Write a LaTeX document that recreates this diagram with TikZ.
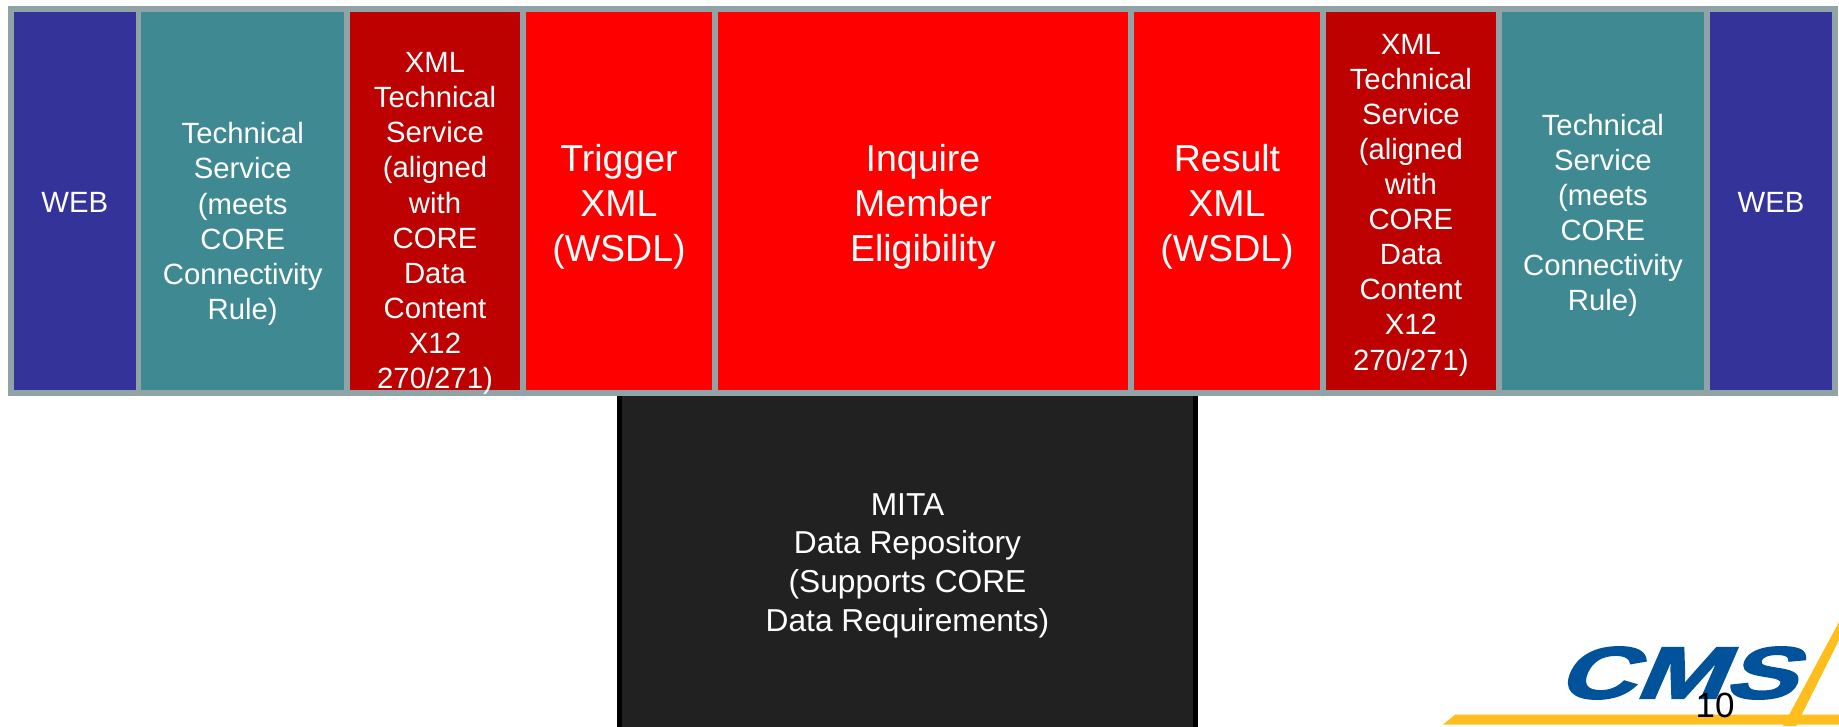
\documentclass[tikz,border=0pt]{standalone}
\usepackage{fontspec}
\setmainfont{Liberation Sans}
\newfontfamily\logofont[BoldFeatures={FakeBold=2,FakeSlant=0.3}]{Liberation Sans}
\usetikzlibrary{positioning, backgrounds}
\definecolor{colorBand}{HTML}{90A4A7}
\definecolor{colorWeb}{HTML}{333399}
\definecolor{colorTeal}{HTML}{3F8A92}
\definecolor{colorDarkRed}{HTML}{BD0000}
\definecolor{colorRepo}{HTML}{212121}
\definecolor{colorLogoBlue}{HTML}{00539B}
\definecolor{colorLogoGold}{HTML}{FFBE1E}
\tikzstyle{cellbox} =[draw=colorBand, line width=5.5pt, outer sep=0pt, inner sep=0pt, minimum height=384pt, text=white, align=center, font=\fontsize{29.3}{35.1}\selectfont]
\tikzstyle{bigbox} =[cellbox, fill=red, font=\fontsize{37.5}{45}\selectfont]
\tikzset{every label/.style={text=white, align=center, inner sep=0pt, font=\fontsize{29.3}{35.1}\selectfont}}

\begin{document}
\begin{tikzpicture}[x=1pt, y=1pt]
\useasboundingbox (0,0) rectangle (1839,-726);
\clip (0,0) rectangle (1839,-726);

\node (webLeft) [cellbox, fill=colorWeb, minimum width=127.5pt, anchor=north west, label={[yshift=-1pt]center:WEB}] at (11,-9) {};
\node (techLeft) [cellbox, fill=colorTeal, minimum width=208.5pt, right=0pt of webLeft,
	label={[yshift=-23pt]center:{Technical\\Service\\(meets\\CORE\\Connectivity\\Rule)}}] {};
\node (xmlLeft) [cellbox, fill=colorDarkRed, minimum width=176pt, right=0pt of techLeft,
	label={[yshift=-22.5pt]center:{XML\\Technical\\Service\\(aligned\\with\\CORE\\Data\\Content\\X12\\270/271)}}] {};
\node (trigger) [bigbox, minimum width=192pt, right=0pt of xmlLeft, label={[yshift=-6pt, font=\fontsize{37.5}{45}\selectfont]center:{Trigger\\XML\\(WSDL)}}] {};
\node (inquire) [bigbox, minimum width=416pt, right=0pt of trigger, label={[yshift=-6pt, font=\fontsize{37.5}{45}\selectfont]center:{Inquire\\Member\\Eligibility}}] {};
\node (result) [bigbox, minimum width=192pt, right=0pt of inquire, label={[yshift=-6pt, font=\fontsize{37.5}{45}\selectfont]center:{Result\\XML\\(WSDL)}}] {};
\node (xmlRight) [cellbox, fill=colorDarkRed, minimum width=175.75pt, right=0pt of result,
	label={[yshift=-4pt]center:{XML\\Technical\\Service\\(aligned\\with\\CORE\\Data\\Content\\X12\\270/271)}}] {};
\node (techRight) [cellbox, fill=colorTeal, minimum width=208.25pt, right=0pt of xmlRight,
	label={[yshift=-14.5pt]center:{Technical\\Service\\(meets\\CORE\\Connectivity\\Rule)}}] {};
\node (webRight) [cellbox, fill=colorWeb, minimum width=128pt, right=0pt of techRight, label={[yshift=-1pt]center:WEB}] {};

\begin{scope}[on background layer]
\node (repo) [draw=black, fill=colorRepo, line width=5pt, outer sep=0pt, minimum width=576pt, minimum height=340pt, below=0pt of inquire, xshift=-15.5pt,
	label={[yshift=-2.6pt, font=\fontsize{31.7}{38.7}\selectfont]center:{MITA\\Data Repository\\(Supports CORE\\Data Requirements)}}] {};
\end{scope}

% logo
\fill[colorLogoGold] (1443,-724.5) -- (1455,-714.7) -- (1839,-714.7) -- (1839,-724.5) -- cycle;
\fill[colorLogoGold] (1839,-622) -- (1839,-640) -- (1796,-726) -- (1783,-726) -- cycle;
\node (cmsLogo) [text=colorLogoBlue, inner sep=0pt, xscale=1.45, transform shape, font=\fontsize{74}{74}\logofont\bfseries\selectfont] at (1675,-673) {CMS};
\node (pageNo) [text=black, inner sep=0pt, font=\fontsize{35}{35}\selectfont] at (1715,-705) {10};
\end{tikzpicture}
\end{document}
